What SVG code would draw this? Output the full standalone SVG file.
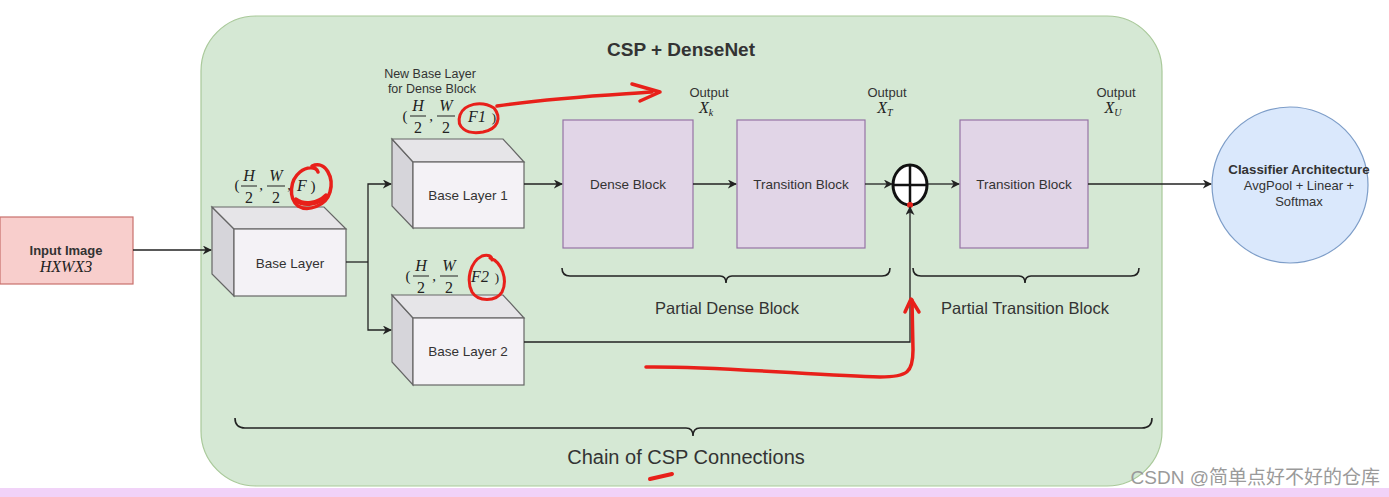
<svg xmlns="http://www.w3.org/2000/svg" width="1389" height="497" viewBox="0 0 1389 497">
<style>
.lbl{font-family:"Liberation Sans",Arial,sans-serif;fill:#333;text-anchor:middle}
.math{font-family:"Liberation Serif","Times New Roman",serif;fill:#222;font-style:italic;text-anchor:middle}
.mathn{font-family:"Liberation Serif","Times New Roman",serif;fill:#222;text-anchor:middle}
.cn{stroke:#222;stroke-width:1.3;fill:none}
.box{fill:#e1d5e7;stroke:#9673a6;stroke-width:1.2}
.front{fill:#f4f2f6;stroke:#666;stroke-width:1.2}
.top{fill:#e6e5e8;stroke:#666;stroke-width:1.2}
.side{fill:#d6d5da;stroke:#666;stroke-width:1.2}
.brace{stroke:#222;stroke-width:1.6;fill:none}
.red{stroke:#e8201a;fill:none;stroke-linecap:round;stroke-linejoin:round}
</style>
<defs>
<marker id="ah" viewBox="0 0 10 10" refX="9" refY="5" markerWidth="9" markerHeight="9" orient="auto" markerUnits="userSpaceOnUse">
<path d="M0,0 L10,5 L0,10 L3,5 Z" fill="#222"/>
</marker>
</defs>
<rect x="0" y="0" width="1389" height="497" fill="#ffffff"/>
<rect x="0" y="488" width="1389" height="9" fill="#f1d2f8"/>

<g id="container">
<rect x="201" y="16" width="961" height="470" rx="55" ry="55" fill="#d5e8d4" stroke="#a9c99a" stroke-width="1.2"/>
<text x="681" y="56" class="lbl" font-size="19" font-weight="bold" fill="#222">CSP + DenseNet</text>
</g>

<g id="input">
<rect x="0" y="217" width="133" height="67" fill="#f8cecc" stroke="#c9706c" stroke-width="1.2"/>
<text x="66" y="255" class="lbl" font-size="13" font-weight="bold" fill="#222">Input Image</text>
<text x="66" y="272" class="math" font-size="16">HXWX3</text>
</g>

<g id="base-layer">
<path class="side" d="M212,207 L234,229 L234,296 L212,274 Z"/>
<path class="top" d="M212,207 L324,207 L346,229 L234,229 Z"/>
<rect class="front" x="234" y="229" width="112" height="67"/>
<text x="290" y="268" class="lbl" font-size="13.5">Base Layer</text>
<g>
<text x="237" y="190" class="mathn" font-size="15">(</text>
<text x="249" y="181" class="math" font-size="16">H</text>
<line x1="241" y1="186" x2="257" y2="186" stroke="#222" stroke-width="1"/>
<text x="249" y="203" class="mathn" font-size="16">2</text>
<text x="261" y="190" class="mathn" font-size="15">,</text>
<text x="276" y="181" class="math" font-size="16">W</text>
<line x1="267" y1="186" x2="285" y2="186" stroke="#222" stroke-width="1"/>
<text x="276" y="203" class="mathn" font-size="16">2</text>
<text x="289" y="190" class="mathn" font-size="15">,</text>
<text x="302" y="191" class="math" font-size="16">F</text>
<text x="313" y="191" class="mathn" font-size="15">)</text>
</g>
</g>

<g id="base-layer-1">
<path class="side" d="M392,139 L413,162 L413,228 L392,206 Z"/>
<path class="top" d="M392,139 L503,139 L524,162 L413,162 Z"/>
<rect class="front" x="413" y="162" width="111" height="66"/>
<text x="468" y="200" class="lbl" font-size="13.5">Base Layer 1</text>
<text x="430" y="78" class="lbl" font-size="12.5">New Base Layer</text>
<text x="432" y="93" class="lbl" font-size="12.5">for Dense Block</text>
<g>
<text x="405" y="121" class="mathn" font-size="15">(</text>
<text x="418" y="111" class="math" font-size="16">H</text>
<line x1="410" y1="116" x2="426" y2="116" stroke="#222" stroke-width="1"/>
<text x="418" y="133" class="mathn" font-size="16">2</text>
<text x="431" y="121" class="mathn" font-size="15">,</text>
<text x="446" y="111" class="math" font-size="16">W</text>
<line x1="437" y1="116" x2="455" y2="116" stroke="#222" stroke-width="1"/>
<text x="446" y="133" class="mathn" font-size="16">2</text>
<text x="477" y="122" class="math" font-size="16">F1</text>
<text x="494" y="122" class="mathn" font-size="13">)</text>
</g>
</g>

<g id="base-layer-2">
<path class="side" d="M392,295 L413,318 L413,385 L392,362 Z"/>
<path class="top" d="M392,295 L503,295 L524,318 L413,318 Z"/>
<rect class="front" x="413" y="318" width="111" height="67"/>
<text x="468" y="356" class="lbl" font-size="13.5">Base Layer 2</text>
<g>
<text x="408" y="281" class="mathn" font-size="15">(</text>
<text x="421" y="271" class="math" font-size="16">H</text>
<line x1="413" y1="276" x2="429" y2="276" stroke="#222" stroke-width="1"/>
<text x="421" y="293" class="mathn" font-size="16">2</text>
<text x="434" y="281" class="mathn" font-size="15">,</text>
<text x="449" y="271" class="math" font-size="16">W</text>
<line x1="440" y1="276" x2="458" y2="276" stroke="#222" stroke-width="1"/>
<text x="449" y="293" class="mathn" font-size="16">2</text>
<text x="480" y="282" class="math" font-size="16">F2</text>
<text x="497" y="282" class="mathn" font-size="13">)</text>
</g>
</g>

<g id="dense-block">
<rect class="box" x="563" y="120" width="130" height="128"/>
<text x="628" y="189" class="lbl" font-size="13.5">Dense Block</text>
<text x="709" y="97" class="lbl" font-size="13">Output</text>
<text x="706" y="113" class="math" font-size="16">X<tspan font-size="10" dy="3">k</tspan></text>
</g>

<g id="transition-block-1">
<rect class="box" x="737" y="120" width="128" height="128"/>
<text x="801" y="189" class="lbl" font-size="13.5">Transition Block</text>
<text x="887" y="97" class="lbl" font-size="13">Output</text>
<text x="885" y="113" class="math" font-size="16">X<tspan font-size="10" dy="3">T</tspan></text>
</g>

<g id="oplus">
<ellipse cx="910" cy="185" rx="17" ry="20" fill="#ffffff" stroke="#111" stroke-width="3"/>
<line x1="910" y1="165" x2="910" y2="205" stroke="#111" stroke-width="2.5"/>
<line x1="893" y1="185" x2="927" y2="185" stroke="#111" stroke-width="2.5"/>
<circle cx="910" cy="205" r="3" fill="#e8201a"/>
</g>

<g id="transition-block-2">
<rect class="box" x="960" y="120" width="128" height="128"/>
<text x="1024" y="189" class="lbl" font-size="13.5">Transition Block</text>
<text x="1116" y="97" class="lbl" font-size="13">Output</text>
<text x="1113" y="113" class="math" font-size="16">X<tspan font-size="10" dy="3">U</tspan></text>
</g>

<g id="classifier">
<circle cx="1290" cy="185" r="78" fill="#dae8fc" stroke="#7d9dc8" stroke-width="1.2"/>
<text x="1299" y="174" class="lbl" font-size="13.3" font-weight="bold" fill="#222">Classifier Architecture</text>
<text x="1299" y="190" class="lbl" font-size="13">AvgPool + Linear +</text>
<text x="1299" y="206" class="lbl" font-size="13">Softmax</text>
</g>

<g id="connectors">
<line class="cn" x1="133" y1="250" x2="211" y2="250" marker-end="url(#ah)"/>
<polyline class="cn" points="346,262 368,262"/>
<polyline class="cn" points="368,262 368,184 391,184" marker-end="url(#ah)"/>
<polyline class="cn" points="368,262 368,330 391,330" marker-end="url(#ah)"/>
<line class="cn" x1="524" y1="184" x2="562" y2="184" marker-end="url(#ah)"/>
<line class="cn" x1="693" y1="184" x2="736" y2="184" marker-end="url(#ah)"/>
<line class="cn" x1="865" y1="184" x2="892" y2="184" marker-end="url(#ah)"/>
<line class="cn" x1="928" y1="184" x2="959" y2="184" marker-end="url(#ah)"/>
<line class="cn" x1="1088" y1="184" x2="1211" y2="184" marker-end="url(#ah)"/>
<polyline class="cn" points="524,342 910,342 910,207" marker-end="url(#ah)"/>
</g>

<g id="braces">
<path class="brace" d="M562,268 Q562,276 570,276 L720,276 Q726,276 726,283 Q726,276 732,276 L882,276 Q890,276 890,268"/>
<text x="727" y="314" class="lbl" font-size="16.5">Partial Dense Block</text>
<path class="brace" d="M913,268 Q913,276 921,276 L1019,276 Q1025,276 1025,283 Q1025,276 1031,276 L1131,276 Q1139,276 1139,268"/>
<text x="1025" y="314" class="lbl" font-size="16.5">Partial Transition Block</text>
<path class="brace" d="M235,418 Q235,428 245,428 L686,428 Q693,428 693,436 Q693,428 700,428 L1142,428 Q1152,428 1152,418"/>
<text x="686" y="464" class="lbl" font-size="20" fill="#222">Chain of CSP Connections</text>
</g>

<g id="annotations">
<path class="red" stroke-width="3.5" d="M312,166 C326,160 334,178 330,192 C326,206 308,212 298,206 C288,198 290,180 300,172 C306,167 316,166 318,172"/>
<path class="red" stroke-width="5" d="M296,200 C304,206 318,204 326,196"/>
<path class="red" stroke-width="3" d="M494,108 C502,118 498,129 483,132 C466,135 456,127 460,115 C464,104 481,100 494,108 Z"/>
<path class="red" stroke-width="3.5" d="M497,106 C560,97 610,95 652,92"/>
<path class="red" stroke-width="3.5" d="M632,84 L660,92 L640,101"/>
<path class="red" stroke-width="3" d="M490,258 C502,262 508,280 502,292 C496,302 478,302 472,292 C466,280 470,262 482,256 C488,254 492,256 492,260"/>
<path class="red" stroke-width="3.5" d="M646,367 C720,366 820,376 880,377 C908,377 913,372 913,350 L912,300"/>
<path class="red" stroke-width="3.5" d="M905,312 L911,299 L919,312"/>
<path class="red" stroke-width="4" d="M650,479 L672,474"/>
</g>

<text x="1380" y="484" font-family="'Liberation Sans','Noto Sans CJK SC',sans-serif" font-size="19" fill="#9a9a9a" text-anchor="end">CSDN @简单点好不好的仓库</text>
</svg>
